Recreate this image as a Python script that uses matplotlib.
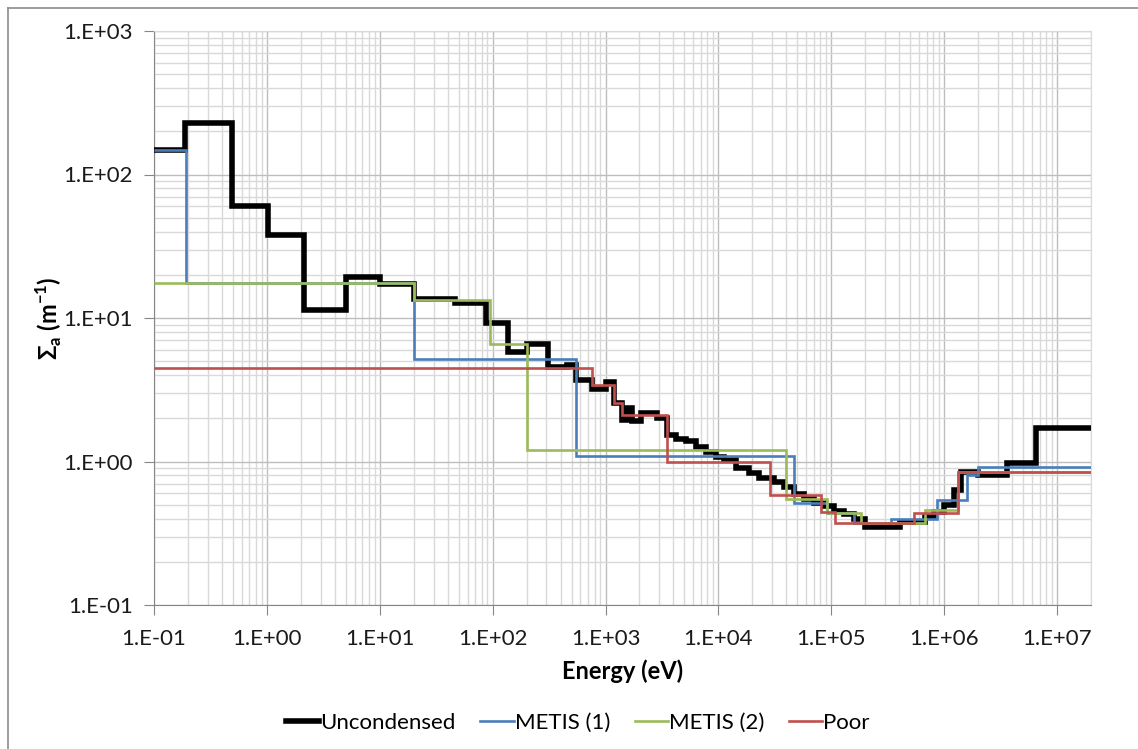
import math
import matplotlib.pyplot as plt
from matplotlib.lines import Line2D
from matplotlib.ticker import LogLocator, FuncFormatter, NullFormatter

plt.rcParams['font.family'] = ['Lato', 'DejaVu Sans']
plt.rcParams['mathtext.fontset'] = 'custom'
plt.rcParams['mathtext.bf'] = 'Lato:bold'
plt.rcParams['mathtext.rm'] = 'Lato'

# group boundaries (eV) and absorption cross sections (1/m)
unc_edges = [0.1, 0.19, 0.49, 1.02, 2.12, 5.0, 10, 20, 46, 88, 136, 200, 307, 452, 553,
             752, 1020, 1200, 1410, 1535, 1700, 2080, 2830, 3470, 4250, 5210, 6380,
             7830, 9550, 11300, 14400, 18600, 22800, 31000, 38000, 47000, 57000, 70000,
             86000, 105000, 129000, 158000, 200000, 410000, 670000, 820000, 1.0e6,
             1.22e6, 1.42e6, 2.0e6, 3.6e6, 6.5e6, 2e7]
unc_vals = [148, 229, 60, 37.8, 11.4, 19.3, 17.3, 13.6, 12.8, 9.2, 5.8, 6.6, 4.56, 4.7,
            3.7, 3.2, 3.58, 2.56, 1.95, 2.35, 1.9, 2.18, 2.0, 1.53, 1.43, 1.40, 1.26,
            1.16, 1.07, 1.02, 0.90, 0.83, 0.77, 0.72, 0.66, 0.59, 0.55, 0.51, 0.49,
            0.45, 0.43, 0.40, 0.35, 0.38, 0.41, 0.445, 0.50, 0.63, 0.85, 0.80, 0.98, 1.71]

m1_edges = [0.1, 0.194, 20, 553, 47100, 92000, 160000, 340000, 870000, 1.58e6, 2.0e6, 2e7]
m1_vals = [148, 17.5, 5.2, 1.09, 0.51, 0.44, 0.37, 0.40, 0.54, 0.81, 0.915]

m2_edges = [0.1, 20, 95, 200, 40000, 92000, 184000, 680000, 1.33e6, 2e7]
m2_vals = [17.5, 13.4, 6.6, 1.20, 0.55, 0.44, 0.37, 0.46, 0.845]

poor_edges = [0.1, 752, 1180, 1410, 3470, 28800, 81700, 108000, 540000, 1.33e6, 2e7]
poor_vals = [4.49, 3.41, 2.56, 2.12, 1.0, 0.58, 0.445, 0.372, 0.44, 0.845]

labels = ['Uncondensed', 'METIS (1)', 'METIS (2)', 'Poor']
colors = ['black', '#4A7EBB', '#9BBB59', '#C0504D']
widths = [4.0, 1.9, 1.9, 1.9]

fig = plt.figure(figsize=(11.38, 7.49), dpi=100)
ax = fig.add_axes([154/1138, 1-605/749, (1091-154)/1138, (605-31)/749])

series = [(unc_edges, unc_vals), (m1_edges, m1_vals), (m2_edges, m2_vals), (poor_edges, poor_vals)]
for z, ((e, v), c, w) in enumerate(zip(series, colors, widths)):
    ax.stairs(v, e, baseline=None, color=c, lw=w, zorder=3 + z, joinstyle='miter')

ax.set_xscale('log')
ax.set_yscale('log')
ax.set_xlim(0.1, 2e7)
ax.set_ylim(0.1, 1000)

fmt = FuncFormatter(lambda v, p: '1.E%+03d' % round(math.log10(v)))
for axis in (ax.xaxis, ax.yaxis):
    axis.set_major_locator(LogLocator(base=10, numticks=20))
    axis.set_minor_locator(LogLocator(base=10, subs=range(2, 10), numticks=20))
    axis.set_major_formatter(fmt)
    axis.set_minor_formatter(NullFormatter())

ax.grid(True, which='major', color='#bdbdbd', lw=1.0, zorder=0)
ax.grid(True, which='minor', color='#d9d9d9', lw=1.0, zorder=0)
ax.set_axisbelow(True)
ax.tick_params(which='major', length=7, color='#868686', labelsize=16, labelcolor='#1a1a1a')
ax.tick_params(axis='x', pad=10)
ax.tick_params(axis='y', pad=8)
ax.tick_params(which='minor', length=0)
for s in ('top', 'right'):
    ax.spines[s].set_color('#d9d9d9')
for s in ('left', 'bottom'):
    ax.spines[s].set_color('#868686')

ax.set_xlabel('Energy (eV)', fontsize=17, fontweight='bold', labelpad=8)
ax.set_ylabel(r'Σ$_\mathbf{a}$ (m$^\mathbf{-1}$)', fontsize=17, fontweight='bold', labelpad=0)

handles = [Line2D([], [], color=c, lw=w) for c, w in zip(colors, widths)]
fig.legend(handles, labels, loc='center', bbox_to_anchor=(578/1138, 1-723/749), ncol=4,
           frameon=False, fontsize=16, handlelength=1.5, handletextpad=0.05,
           columnspacing=1.1)

# outer chart border
fig.add_artist(Line2D([8/1138, 1], [1-8/749, 1-8/749], color='#8c8c8c', lw=1.2))
fig.add_artist(Line2D([8/1138, 8/1138], [0, 1-8/749], color='#8c8c8c', lw=1.2))

fig.savefig('out.png', dpi=100)
